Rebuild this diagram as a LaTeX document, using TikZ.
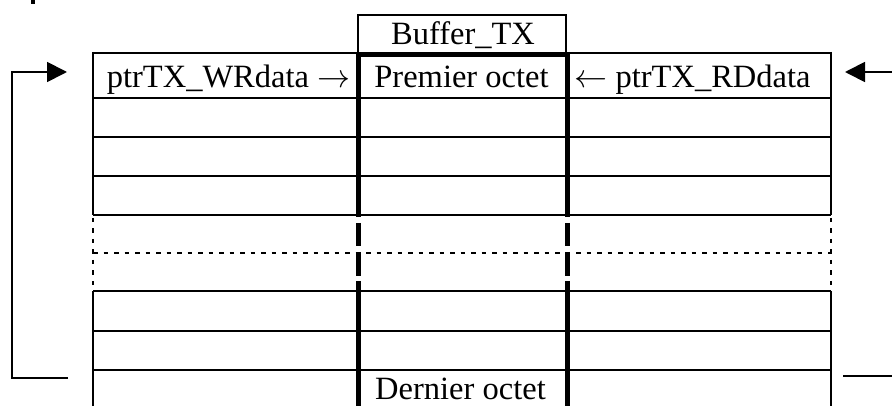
\documentclass[tikz,border=0pt]{standalone}
\usepackage{graphicx}
\usepackage{fontspec}
\setmainfont{Liberation Serif}
\usetikzlibrary{arrows.meta}
\newcommand{\bigrarr}{\resizebox{33pt}{!}{$\rightarrow$}}
\newcommand{\biglarr}{\resizebox{33pt}{!}{$\leftarrow$}}
\begin{document}
\begin{tikzpicture}[x=1pt,y=-1pt,
  thinln/.style={line width=1.8pt},
  thickln/.style={line width=5pt},
  dashln/.style={line width=1.8pt, dash pattern=on 4.5pt off 6pt},
  lbl/.style={font=\fontsize{32.5}{39}\selectfont, anchor=base, inner sep=0pt},
  ptr/.style={line width=1.8pt, line join=miter, -{Triangle[length=20pt,width=20pt]}}]
\useasboundingbox (0,0) rectangle (892,406);
% small mark top-left
\fill (31,0) rectangle (35,4);
% Buffer_TX box
\draw[thinln] (358,15) rectangle (566,53);
\node[lbl] (buf) at (463,45) {Buffer\_TX};
% horizontal solid lines
\foreach \yy in {53,98,137,176,215,291,331,370}{
  \draw[thinln] (93,\yy) -- (831,\yy);
}
\draw[thickln] (358,55) -- (566,55);
% dashed horizontal
\draw[dashln] (93,253) -- (831,253);
% outer verticals
\foreach \xx in {93,831}{
  \draw[thinln] (\xx,52) -- (\xx,215);
  \draw[dashln] (\xx,218) -- (\xx,291);
  \draw[thinln] (\xx,291) -- (\xx,406);
}
% thick middle verticals
\foreach \xx in {358,567}{
  \draw[thickln] (\xx,53) -- (\xx,217);
  \draw[thickln] (\xx,223) -- (\xx,246);
  \draw[thickln] (\xx,252) -- (\xx,276);
  \draw[thickln] (\xx,281) -- (\xx,406);
}
% texts
\node[lbl] (wr) at (228.5,88) {ptrTX\_WRdata \bigrarr};
\node[lbl] (first) at (461.5,88) {Premier octet};
\node[lbl] (rd) at (692.5,88) {\biglarr{} ptrTX\_RDdata};
\node[lbl] (last) at (460.5,399) {Dernier octet};
% pointer arrows
\coordinate (wrtip) at (67,72);
\coordinate (lbot) at (68,378);
\coordinate (rdtip) at (845,72);
\coordinate (rstart) at (892,72);
\coordinate (rbot) at (843,376);
\coordinate (rend) at (892,376);
\draw[ptr] (lbot) -- (12,378) -- (12,72) -- (wrtip);
\draw[ptr] (rstart) -- (rdtip);
\draw[thinln] (rbot) -- (rend);
\end{tikzpicture}
\end{document}
